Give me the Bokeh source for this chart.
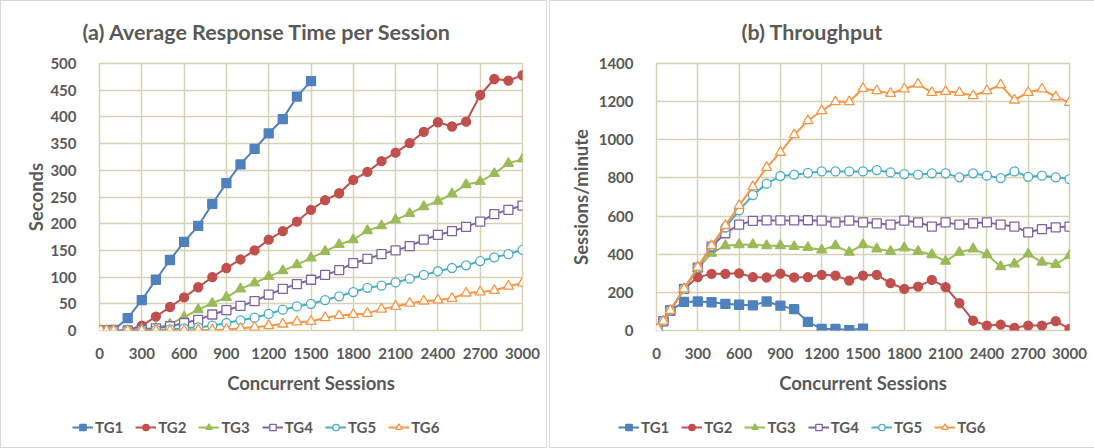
from bokeh.plotting import figure
from bokeh.layouts import row, column
from bokeh.models import FixedTicker, Legend, LegendItem, Title, Range1d
from bokeh.embed import file_html
from bokeh.resources import INLINE

# ---------------- data ----------------
sessions = [10, 50, 100, 200, 300, 400, 500, 600, 700, 800, 900, 1000, 1100, 1200,
            1300, 1400, 1500, 1600, 1700, 1800, 1900, 2000, 2100, 2200, 2300, 2400,
            2500, 2600, 2700, 2800, 2900, 3000]
x_ticks = [0, 300, 600, 900, 1200, 1500, 1800, 2100, 2400, 2700, 3000]
rt_ticks = [0, 50, 100, 150, 200, 250, 300, 350, 400, 450, 500]
tp_ticks = [0, 200, 400, 600, 800, 1000, 1200, 1400]
series_names = ["TG1", "TG2", "TG3", "TG4", "TG5", "TG6"]

# (a) Average response time per session (seconds)
rt_tg1 = [0, 0, 1, 23, 57, 95, 132, 166, 196, 237, 276, 311, 340, 369, 396, 438, 467]
rt_tg2 = [0, 0, 0, 1, 9, 26, 44, 62, 81, 100, 117, 133, 150, 170, 186, 204, 226, 244,
          257, 282, 297, 317, 333, 351, 372, 390, 382, 391, 441, 471, 468, 478]
rt_tg3 = [0, 0, 0, 0, 2, 5, 12, 25, 39, 51, 62, 78, 89, 101, 112, 123, 136, 148, 161,
          170, 187, 196, 207, 219, 232, 242, 256, 273, 279, 294, 313, 321]
rt_tg4 = [0, 0, 0, 0, 1, 4, 8, 14, 20, 30, 38, 46, 55, 67, 78, 87, 95, 104, 113, 126,
          134, 143, 150, 158, 170, 179, 186, 194, 204, 218, 226, 234]
rt_tg5 = [0, 0, 0, 0, 0, 1, 2, 4, 6, 9, 14, 19, 24, 31, 39, 45, 50, 57, 64, 72, 80, 84,
          90, 97, 104, 111, 117, 122, 130, 137, 143, 151]
rt_tg6 = [0, 0, 0, 0, 0, 0, 0, 0, 1, 1, 2, 4, 6, 9, 12, 16, 17, 24, 28, 30, 32, 40, 45,
          51, 55, 57, 60, 70, 72, 75, 83, 89]

# (b) Throughput (sessions/minute)
tp_tg1 = [9, 49, 105, 150, 152, 148, 140, 135, 132, 152, 130, 112, 45, 8, 8, 2, 10]
tp_tg2 = [9, 49, 105, 218, 280, 297, 297, 300, 280, 278, 298, 278, 280, 292, 288, 262,
          288, 292, 248, 218, 230, 265, 227, 143, 52, 26, 31, 14, 26, 26, 49, 9]
tp_tg3 = [9, 49, 105, 218, 325, 405, 445, 450, 450, 445, 445, 440, 435, 422, 445, 410,
          450, 428, 415, 433, 415, 398, 363, 410, 428, 398, 335, 349, 401, 358, 346, 393]
tp_tg4 = [9, 49, 105, 218, 330, 440, 510, 555, 575, 577, 577, 577, 578, 576, 567, 576,
          567, 562, 555, 576, 567, 545, 567, 555, 562, 567, 555, 545, 515, 532, 541, 545]
tp_tg5 = [9, 49, 105, 218, 330, 443, 540, 630, 710, 770, 810, 817, 826, 834, 834, 834,
          834, 841, 829, 820, 817, 824, 824, 803, 824, 812, 799, 834, 806, 812, 803, 794]
tp_tg6 = [9, 49, 105, 218, 332, 445, 550, 655, 754, 855, 934, 1026, 1100, 1152, 1199,
          1199, 1269, 1257, 1243, 1266, 1292, 1248, 1253, 1248, 1231, 1257, 1288, 1208,
          1248, 1266, 1225, 1196]

# ---------------- style ----------------
FONT = "Lato"
TXT = "#595959"
GRID = "#d6d2b5"
COLORS = ["#4F81BD", "#C0504D", "#9BBB59", "#8064A2", "#4BACC6", "#F79646"]
MARKERS = ["square", "circle", "triangle", "square", "circle", "triangle"]
FILLED = [True, True, True, False, False, False]
SIZES = [9, 9, 10, 9, 9, 10]

W = 545
PLOT_H = 405
LEG_H = 41
NAN = float("nan")


def add_series(p, i, xs, ys):
    ln = p.line(xs, ys, line_color=COLORS[i], line_width=2)
    sc = p.scatter(xs, ys, marker=MARKERS[i], size=SIZES[i],
                   line_color=COLORS[i], line_width=1.3,
                   fill_color=COLORS[i] if FILLED[i] else "white")
    return ln, sc


def make(title, ylabel, ymax, yticks, ys, left, right, title_off, leg_x, ylab_standoff):
    p = figure(width=W, height=PLOT_H, output_backend="svg", toolbar_location=None,
               x_range=Range1d(0, 3000), y_range=Range1d(0, ymax),
               min_border_left=left, min_border_right=right,
               min_border_top=62, min_border_bottom=PLOT_H - 329,
               background_fill_color="white", border_fill_color="white")
    p.title = None
    t = Title(text=title, align="left", offset=title_off, standoff=34,
              vertical_align="top",
              text_font=FONT, text_font_size="21.5px", text_font_style="bold",
              text_color=TXT)
    p.add_layout(t, "above")

    p.outline_line_color = GRID
    p.outline_line_width = 1.5
    for ax in (p.xaxis, p.yaxis):
        ax.axis_line_color = None
        ax.major_tick_line_color = None
        ax.minor_tick_line_color = None
        ax.major_label_text_font = FONT
        ax.major_label_text_font_size = "15px"
        ax.major_label_text_font_style = "bold"
        ax.major_label_text_color = TXT
        ax.axis_label_text_font = FONT
        ax.axis_label_text_font_size = "18.5px"
        ax.axis_label_text_font_style = "bold"
        ax.axis_label_text_color = TXT
    p.xaxis.ticker = FixedTicker(ticks=x_ticks)
    p.yaxis.ticker = FixedTicker(ticks=yticks)
    p.xaxis.axis_label = "Concurrent Sessions"
    p.yaxis.axis_label = ylabel
    p.xaxis.major_label_standoff = 11
    p.xaxis.axis_label_standoff = 10
    p.yaxis.major_label_standoff = 17
    p.yaxis.axis_label_standoff = ylab_standoff
    p.xgrid.grid_line_color = GRID
    p.ygrid.grid_line_color = GRID
    p.xgrid.grid_line_width = 1.5
    p.ygrid.grid_line_width = 1.5

    for i, y in enumerate(ys):
        add_series(p, i, sessions[:len(y)], y)

    # legend strip underneath (own canvas so it is not clipped)
    lf = figure(width=W, height=LEG_H, output_backend="svg", toolbar_location=None,
                x_range=Range1d(0, 1), y_range=Range1d(0, 1),
                x_axis_location=None, y_axis_location=None,
                min_border_left=leg_x, min_border_right=0,
                min_border_top=0, min_border_bottom=0,
                outline_line_color=None,
                background_fill_color="white", border_fill_color="white")
    lf.grid.visible = False
    items = []
    for i in range(len(series_names)):
        ln, sc = add_series(lf, i, [NAN], [NAN])
        items.append(LegendItem(label=series_names[i], renderers=[ln, sc]))
    leg = Legend(items=items, orientation="horizontal", location="left",
                 label_text_font=FONT, label_text_font_size="15px",
                 label_text_font_style="bold", label_text_color=TXT,
                 glyph_width=21, glyph_height=16, label_standoff=2, spacing=12,
                 border_line_color=None, background_fill_alpha=0, padding=0,
                 margin=0)
    lf.add_layout(leg, "center")
    return column(p, row(lf), spacing=0, styles={"border": "1px solid #d9d9d9"})


pa = make("(a) Average Response Time per Session", "Seconds", 500, rt_ticks,
          [rt_tg1, rt_tg2, rt_tg3, rt_tg4, rt_tg5, rt_tg6],
          98, W - 98 - 423, -17, 71, 0)
pb = make("(b) Throughput", "Sessions/minute", 1400, tp_ticks,
          [tp_tg1, tp_tg2, tp_tg3, tp_tg4, tp_tg5, tp_tg6],
          106, W - 106 - 413, 85, 68, 4)

layout = row(pa, pb, spacing=2)
open("out.html", "w").write(file_html(layout, INLINE))
